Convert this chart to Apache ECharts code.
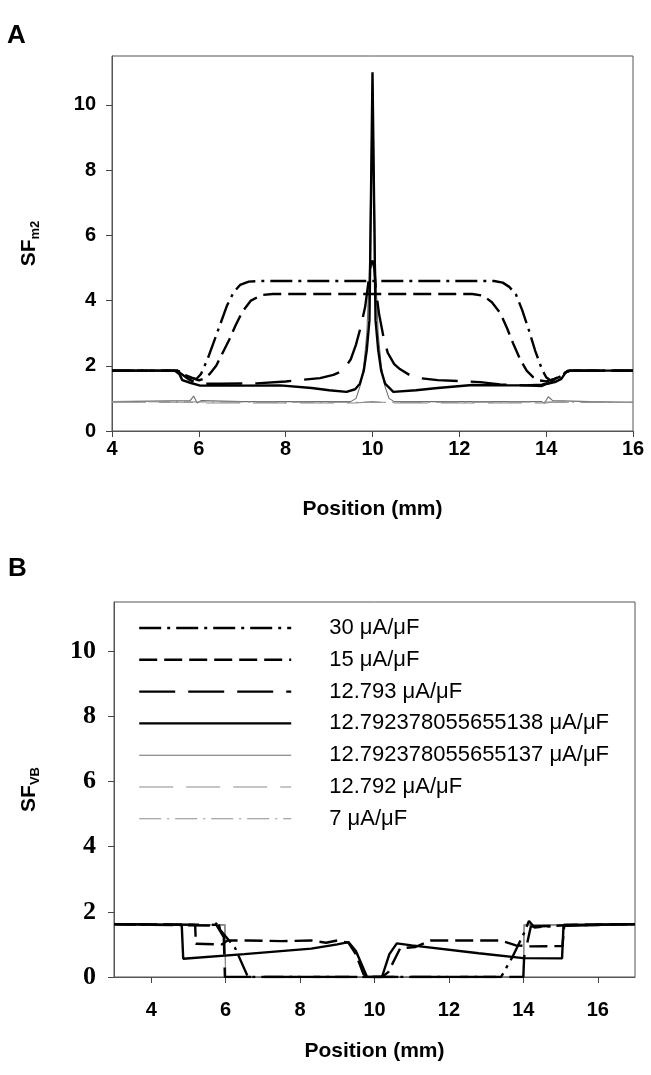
<!DOCTYPE html>
<html><head><meta charset="utf-8">
<script src="https://cdn.jsdelivr.net/npm/echarts@6/dist/echarts.min.js"></script>
<style>html,body{margin:0;padding:0;background:#fff}#c{width:651px;height:1075px}</style>
</head><body><div id="c"></div>
<script>
// ---------- DATA ----------
const seriesNames = ['30 μA/μF','15 μA/μF','12.793 μA/μF','12.792378055655138 μA/μF','12.792378055655137 μA/μF','12.792 μA/μF','7 μA/μF'];
const xTicksA = [4,6,8,10,12,14,16];
const yTicksA = [0,2,4,6,8,10];
const xTicksB = [4,6,8,10,12,14,16];
const yTicksB = [0,2,4,6,8,10];

// Panel A : SF_m2 vs position (mm)
const a30 = [[4,1.85],[5.5,1.85],[5.6,1.8],[5.7,1.68],[5.85,1.62],[5.95,1.6],[6.05,1.75],[6.2,2.2],[6.35,2.75],[6.5,3.3],[6.65,3.85],[6.8,4.25],[6.95,4.48],[7.15,4.58],[7.4,4.6],[12.8,4.6],[13.0,4.55],[13.15,4.42],[13.3,4.2],[13.45,3.7],[13.6,3.1],[13.75,2.45],[13.9,1.9],[14.0,1.65],[14.1,1.55],[14.3,1.65],[14.45,1.8],[14.55,1.85],[16,1.85]];
const a15 = [[4,1.85],[5.5,1.85],[5.6,1.78],[5.75,1.68],[5.9,1.6],[6.0,1.55],[6.1,1.6],[6.25,1.75],[6.4,2.0],[6.55,2.4],[6.7,2.8],[6.85,3.25],[7.0,3.65],[7.2,4.0],[7.45,4.17],[7.7,4.2],[12.3,4.2],[12.55,4.15],[12.75,3.95],[12.95,3.6],[13.1,3.15],[13.25,2.65],[13.4,2.2],[13.55,1.85],[13.7,1.65],[13.85,1.55],[14.0,1.52],[14.2,1.6],[14.4,1.75],[14.5,1.85],[16,1.85]];
const a12793 = [[4,1.85],[5.5,1.85],[5.6,1.75],[5.75,1.6],[5.9,1.5],[6.05,1.45],[6.5,1.45],[7.33,1.46],[8.0,1.52],[8.79,1.62],[9.1,1.72],[9.33,1.86],[9.5,2.2],[9.62,2.65],[9.73,3.2],[9.83,3.8],[9.9,4.5],[9.96,5.1],[10.0,5.23],[10.04,5.0],[10.08,4.3],[10.15,3.6],[10.25,2.9],[10.35,2.4],[10.5,2.05],[10.63,1.9],[10.85,1.72],[11.1,1.62],[11.5,1.56],[12.48,1.5],[12.94,1.43],[13.5,1.4],[13.9,1.42],[14.1,1.48],[14.3,1.6],[14.45,1.8],[14.55,1.85],[16,1.85]];
const a138 = [[4,1.85],[5.45,1.85],[5.55,1.75],[5.62,1.56],[5.8,1.48],[6.03,1.39],[7.0,1.39],[7.87,1.4],[8.6,1.32],[9.0,1.25],[9.4,1.2],[9.6,1.28],[9.71,1.45],[9.8,1.85],[9.87,2.5],[9.93,3.4],[10.0,11.0],[10.07,3.4],[10.13,2.5],[10.2,1.85],[10.29,1.45],[10.48,1.2],[11.0,1.25],[11.5,1.32],[12.3,1.41],[13.0,1.4],[13.5,1.4],[13.9,1.38],[14.02,1.45],[14.2,1.5],[14.35,1.6],[14.45,1.8],[14.55,1.85],[16,1.85]];
const a137 = [[4,0.9],[5.8,0.93],[5.88,1.07],[5.96,0.86],[6.05,0.93],[7,0.9],[9.5,0.9],[9.62,1.0],[9.72,1.4],[9.8,2.0],[9.87,3.0],[9.93,5.0],[10.0,10.8],[10.07,5.0],[10.13,3.0],[10.2,2.0],[10.28,1.4],[10.38,1.0],[10.5,0.9],[13.9,0.9],[13.96,0.85],[14.05,1.05],[14.15,0.93],[15,0.9],[16,0.88]];
const a12792 = [[4,0.88],[5.9,0.88],[6.0,0.86],[9.6,0.86],[10.0,0.9],[10.4,0.86],[14.0,0.86],[14.1,0.88],[16,0.88]];
const a7 = [[4,0.9],[6.0,0.89],[10.0,0.88],[14.0,0.89],[16,0.88]];

// Panel B : SF_VB vs position (mm)
const b30 = [[3,1.62],[5.55,1.58],[5.7,1.55],[5.8,1.72],[5.85,1.45],[6.25,0.9],[6.6,0],[13.4,0],[13.7,0.6],[14.0,1.3],[14.15,1.72],[14.3,1.52],[15.0,1.58],[17,1.62]];
const b15 = [[3,1.62],[5.18,1.6],[5.2,1.02],[5.9,1.0],[6.05,1.12],[6.6,1.12],[7.5,1.1],[8.3,1.12],[8.7,1.05],[9.0,1.12],[9.3,1.05],[9.5,0.7],[9.7,0.1],[9.8,0],[10.2,0],[10.37,0.15],[10.69,0.88],[11.1,0.92],[11.5,1.12],[12.5,1.12],[13.4,1.12],[13.8,0.97],[14.2,0.94],[15.05,0.95],[15.1,1.6],[17,1.62]];
const b12793 = [[3,1.62],[5.75,1.6],[5.95,1.22],[5.98,0],[14.0,0],[14.02,0.6],[14.2,1.55],[17,1.62]];
const b138 = [[3,1.62],[4.82,1.6],[4.86,0.56],[6.5,0.7],[8.3,0.87],[9.0,1.0],[9.3,1.07],[9.5,0.8],[9.8,0],[10.2,0],[10.4,0.7],[10.6,1.03],[11.0,0.97],[12.8,0.73],[14.0,0.58],[15.04,0.57],[15.08,1.6],[17,1.62]];
const b137 = [[3,1.6],[5.98,1.6],[6.0,0],[14.0,0],[14.02,1.6],[17,1.6]];
const b12792 = [[3,1.6],[5.98,1.6],[6.0,0],[14.0,0],[14.02,1.6],[17,1.6]];
const b7 = [[3,1.6],[5.98,1.6],[6.0,0],[14.0,0],[14.02,1.6],[17,1.6]];

// ---------- STYLE ----------
const FF = 'Liberation Sans';
const FS = 'Liberation Serif';
const styles = [
  {color:'#000', width:2.4, type:[22,6,3,6]},
  {color:'#000', width:2.4, type:[18,7]},
  {color:'#000', width:2.4, type:[36,13]},
  {color:'#000', width:2.4, type:'solid'},
  {color:'#6e6e6e', width:1.1, type:'solid'},
  {color:'#8c8c8c', width:1.1, type:[34,13]},
  {color:'#8c8c8c', width:1.1, type:[22,6,2,6]}
];
const dataA = [a30,a15,a12793,a138,a137,a12792,a7];
const dataB = [b30,b15,b12793,b138,b137,b12792,b7];

function mkSeries(data, idx){
  return data.map((d,i)=>({
    name: seriesNames[i], type:'line', xAxisIndex: idx, yAxisIndex: idx,
    data: d, showSymbol:false, symbol:'none', smooth:false,
    z: i>=4 ? 2 : 3,
    lineStyle: {color: styles[i].color, width: styles[i].width, type: styles[i].type},
    itemStyle: {color: styles[i].color},
    animation:false
  }));
}

function yName(sub, gap){
  return {
    name: '{a|SF}{b|' + sub + '}',
    nameLocation:'middle', nameGap: gap, nameRotate: 90,
    nameTextStyle:{rich:{
      a:{fontSize:21, fontWeight:'bold', fontFamily:FF, color:'#000', lineHeight:26},
      b:{fontSize:13, fontWeight:'bold', fontFamily:FF, color:'#000', lineHeight:12, verticalAlign:'bottom'}
    }}
  };
}

const axisLineStyle = {show:true, lineStyle:{color:'#555', width:1}};
const tickStyle = {show:true, inside:false, length:6, lineStyle:{color:'#444', width:1}};

const option = {
  animation:false,
  backgroundColor:'#fff',
  graphic:[
    {type:'text', left:7, top:23, style:{text:'A', font:'bold 26px "Liberation Sans"', fill:'#000'}},
    {type:'text', left:8, top:556, style:{text:'B', font:'bold 26px "Liberation Sans"', fill:'#000'}}
  ],
  grid:[
    {left:112, top:56, width:521, height:375, show:true, borderColor:'#555', borderWidth:1, backgroundColor:'transparent'},
    {left:114, top:602, width:521, height:375, show:true, borderColor:'#555', borderWidth:1, backgroundColor:'transparent'}
  ],
  legend:{
    show:true, orient:'vertical', left:133, top:612,
    itemWidth:152, itemHeight:14, itemGap:9.8,
    textStyle:{fontSize:22, fontFamily:FF, color:'#000', lineHeight:22, padding:[0,0,0,33]},
    selectedMode:false,
    data: seriesNames.map((n,i)=>({name:n, itemStyle:{opacity:0}, lineStyle:{width:styles[i].width, color:styles[i].color, type:styles[i].type}}))
  },
  xAxis:[
    {type:'value', gridIndex:0, min:4, max:16, interval:2,
     name:'Position (mm)', nameLocation:'middle', nameGap:68,
     nameTextStyle:{fontSize:21, fontWeight:'bold', fontFamily:FF, color:'#000'},
     axisLine:axisLineStyle, axisTick:Object.assign({}, tickStyle, {customValues:xTicksA}),
     axisLabel:{customValues:xTicksA, margin:8, fontSize:20, fontWeight:'bold', fontFamily:FF, color:'#000'},
     splitLine:{show:false}},
    {type:'value', gridIndex:1, min:3, max:17,
     name:'Position (mm)', nameLocation:'middle', nameGap:64,
     nameTextStyle:{fontSize:21, fontWeight:'bold', fontFamily:FF, color:'#000'},
     axisLine:axisLineStyle, axisTick:Object.assign({}, tickStyle, {customValues:xTicksB}),
     axisLabel:{customValues:xTicksB, margin:23, fontSize:20, fontWeight:'bold', fontFamily:FF, color:'#000'},
     splitLine:{show:false}}
  ],
  yAxis:[
    Object.assign({type:'value', gridIndex:0, min:0, max:11.5,
     axisLine:axisLineStyle, axisTick:Object.assign({}, tickStyle, {customValues:yTicksA}),
     axisLabel:{customValues:yTicksA, margin:16, fontSize:20, fontWeight:'bold', fontFamily:FF, color:'#000'},
     splitLine:{show:false}}, yName('m2', 70)),
    Object.assign({type:'value', gridIndex:1, min:0, max:11.5,
     axisLine:axisLineStyle, axisTick:Object.assign({}, tickStyle, {customValues:yTicksB}),
     axisLabel:{customValues:yTicksB, margin:18, fontSize:26, fontWeight:'bold', fontFamily:FS, color:'#000'},
     splitLine:{show:false}}, yName('VB', 72))
  ],
  series: [].concat(mkSeries(dataA,0), mkSeries(dataB,1))
};
const chart = echarts.init(document.getElementById('c'), null, {renderer:'canvas', width:651, height:1075});
chart.setOption(option);
</script></body></html>
